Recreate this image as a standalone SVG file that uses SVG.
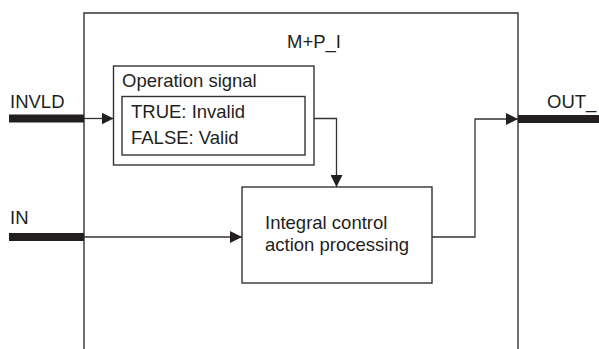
<svg xmlns="http://www.w3.org/2000/svg" width="599" height="349" viewBox="0 0 599 349">
<style>
text{font-family:"Liberation Sans",Arial,sans-serif;font-size:18.5px;fill:#231f20}
.box{fill:#fff;stroke:#333;stroke-width:1.4}
.ln{fill:none;stroke:#333;stroke-width:1.3}
.bar{fill:#231f20}
</style>
<defs>
<marker id="ah" markerWidth="12" markerHeight="12" refX="12" refY="6" orient="auto" markerUnits="userSpaceOnUse">
<path d="M0,0 L12,6 L0,12 Z" fill="#231f20"/>
</marker>
</defs>
<g id="fb">
<path class="ln" d="M84,349 V13 H518 V349" style="stroke-width:1.4"/>
<text x="314" y="48" text-anchor="middle">M+P_I</text>
</g>
<g id="opsig">
<rect class="box" x="113.5" y="66" width="200.5" height="99"/>
<text x="122" y="87">Operation signal</text>
<rect class="box" x="122" y="96.5" width="183" height="58.5"/>
<text x="131" y="118">TRUE: Invalid</text>
<text x="131" y="144">FALSE: Valid</text>
</g>
<g id="integral">
<rect class="box" x="242" y="187" width="190" height="96"/>
<text x="265" y="229">Integral control</text>
<text x="265" y="251">action processing</text>
</g>
<g id="invld">
<rect class="bar" x="9" y="114.5" width="75" height="8"/>
<text x="10" y="108">INVLD</text>
</g>
<g id="in">
<rect class="bar" x="9" y="233" width="75" height="8"/>
<text x="10" y="224">IN</text>
</g>
<g id="out">
<rect class="bar" x="518" y="115" width="81" height="8"/>
<text x="547" y="108">OUT_</text>
</g>
<g id="connectors">
<path class="ln" d="M84,118.5 H113.5" marker-end="url(#ah)"/>
<path class="ln" d="M314,118.5 H336.5 V187" marker-end="url(#ah)"/>
<path class="ln" d="M84,237 H242" marker-end="url(#ah)"/>
<path class="ln" d="M432,237 H475 V119 H518" marker-end="url(#ah)"/>
</g>
</svg>
